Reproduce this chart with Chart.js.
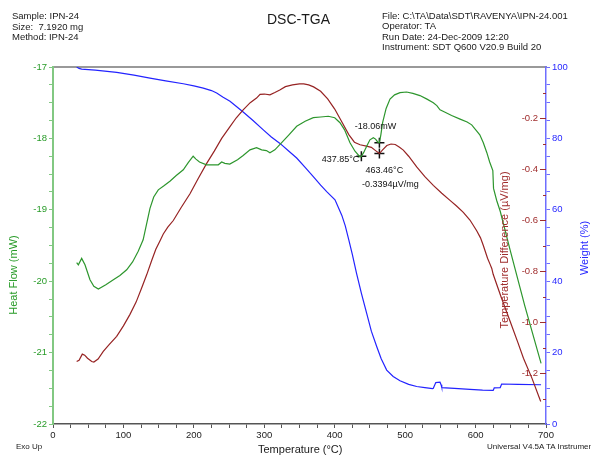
<!DOCTYPE html>
<html>
<head>
<meta charset="utf-8">
<script src="https://cdn.jsdelivr.net/npm/chart.js@4/dist/chart.umd.min.js"></script>
<style>
	body { margin: 0; width: 591px; height: 458px; overflow: hidden; background: #fff; position: relative; font-family: "Liberation Sans", Arial, sans-serif; }
	#chart { position: absolute; left: 0; top: 0; }
	.txt { position: absolute; white-space: pre; color: #1a1a1a; }
</style>
</head>
<body>
<canvas id="chart" width="591" height="458"></canvas>
<div class="txt" style="left:12px;top:11px;font-size:9.5px;line-height:10.5px">Sample: IPN-24
Size:  7.1920 mg
Method: IPN-24</div>
<div class="txt" style="left:267px;top:11px;font-size:14px;line-height:16px">DSC-TGA</div>
<div class="txt" style="left:382px;top:11px;font-size:9.5px;line-height:10.3px">File: C:\TA\Data\SDT\RAVENYA\IPN-24.001
Operator: TA
Run Date: 24-Dec-2009 12:20
Instrument: SDT Q600 V20.9 Build 20</div>
<div class="txt" style="left:16px;top:442px;font-size:8px;line-height:10px">Exo Up</div>
<div class="txt" style="left:258px;top:443px;font-size:11px;line-height:13px">Temperature (°C)</div>
<div class="txt" style="left:487px;top:442px;font-size:8px;line-height:10px">Universal V4.5A TA Instruments</div>
<script>
// heat flow, mW
var hfTemp = [33.6, 36, 40.7, 45.4, 52.5, 58, 64.4, 75, 85.7, 95, 104.6, 113, 121, 128, 137.7, 143, 149.5, 158, 166, 175, 185, 192, 199, 203, 208, 218, 228, 234.7, 239.5, 244, 251, 262, 270, 279.7, 289, 296.3, 303, 308, 315, 324.7, 335, 346, 358, 369.6, 380, 390.9, 400, 407.5, 414, 421.7, 428.8, 435.9, 437.85, 441, 445.4, 450, 454.8, 458, 461, 463.46, 465.5, 468, 473, 478.5, 485, 492.7, 502, 511, 521, 531, 540, 545, 549.5, 556, 566, 578, 588, 594.5, 602, 606, 611, 616, 620, 624.5, 625.5, 630, 635, 649, 670, 693];
var hfValue = [-19.74, -19.77, -19.68, -19.77, -19.98, -20.07, -20.11, -20.05, -19.98, -19.92, -19.84, -19.73, -19.58, -19.42, -18.98, -18.82, -18.72, -18.66, -18.60, -18.52, -18.44, -18.34, -18.25, -18.29, -18.33, -18.37, -18.37, -18.37, -18.33, -18.35, -18.36, -18.30, -18.24, -18.16, -18.13, -18.16, -18.17, -18.20, -18.16, -18.06, -17.95, -17.83, -17.76, -17.71, -17.70, -17.69, -17.71, -17.78, -17.88, -18.06, -18.18, -18.26, -18.25, -18.20, -18.11, -18.02, -17.99, -18.01, -18.05, -18.06, -17.95, -17.78, -17.58, -17.45, -17.39, -17.36, -17.35, -17.37, -17.40, -17.45, -17.50, -17.54, -17.60, -17.63, -17.68, -17.73, -17.77, -17.81, -17.90, -17.95, -18.06, -18.20, -18.33, -18.45, -18.70, -18.87, -19.02, -19.56, -20.35, -21.15];

// temperature difference, µV/mg
var tdTemp = [33.6, 37, 41.6, 45, 49, 55, 58, 64, 71.4, 80, 90.4, 100, 109.3, 118, 126, 133, 140, 146, 152, 156.6, 163, 170.8, 182, 194.5, 206, 218, 229, 239.5, 251.3, 260, 270, 280, 289, 294, 300, 308, 315, 322, 330, 340, 350, 356, 363, 370, 380, 390, 400, 410, 420, 428, 436, 445, 452, 458, 463.46, 468, 474, 480, 486, 492, 497.4, 505, 516.4, 528, 540, 552, 563.7, 573, 582.6, 592, 601.6, 607, 611, 617, 620.5, 623, 625, 636, 649, 660, 668, 680, 692.5];
var tdValue = [-1.155, -1.150, -1.126, -1.130, -1.142, -1.155, -1.157, -1.145, -1.115, -1.088, -1.056, -1.015, -0.970, -0.922, -0.866, -0.815, -0.760, -0.715, -0.681, -0.655, -0.628, -0.602, -0.551, -0.497, -0.438, -0.379, -0.330, -0.280, -0.234, -0.200, -0.168, -0.140, -0.122, -0.107, -0.106, -0.109, -0.100, -0.090, -0.077, -0.070, -0.066, -0.066, -0.070, -0.078, -0.095, -0.125, -0.165, -0.215, -0.265, -0.295, -0.305, -0.310, -0.315, -0.328, -0.3394, -0.325, -0.308, -0.302, -0.304, -0.315, -0.326, -0.350, -0.392, -0.430, -0.464, -0.495, -0.523, -0.545, -0.570, -0.600, -0.642, -0.670, -0.700, -0.750, -0.773, -0.790, -0.813, -0.900, -0.997, -1.080, -1.142, -1.220, -1.312];

// weight, %
var wtTemp = [33.6, 37, 40.7, 60, 90.4, 115, 137.7, 160, 185, 200, 213.4, 225, 232.4, 241, 251.3, 260, 270, 284, 298.6, 310, 322.3, 335, 346, 358, 369.6, 380, 388.6, 400.4, 410, 415, 420, 425, 431, 438, 445.4, 452, 459.6, 466, 473.8, 483, 492.7, 505, 516.4, 528, 539, 540, 543.5, 549.5, 551, 552, 570, 592, 610, 625, 626.5, 635, 637, 660, 693];
var wtValue = [100.0, 99.6, 99.4, 99.1, 98.5, 97.7, 96.9, 96.1, 95.3, 94.7, 94.1, 93.4, 92.7, 91.6, 90.4, 89.0, 87.4, 85.0, 82.4, 80.4, 78.6, 76.4, 74.5, 71.9, 69.3, 66.9, 65.1, 62.8, 58.5, 55.5, 51.6, 47.5, 42.2, 36.5, 31.0, 26.0, 21.7, 18.3, 15.1, 13.3, 12.1, 11.1, 10.5, 10.2, 9.9, 10.0, 11.6, 11.7, 11.0, 10.2, 10.0, 9.7, 9.5, 9.4, 10.1, 10.2, 11.2, 11.1, 11.0];

// picked points
var hfMarkTemp = [437.85, 463.46];
var hfMarkValue = [-18.25, -18.06];
var tdMarkTemp = [463.46];
var tdMarkValue = [-0.3394];

var tdTickLabels = [-0.2, -0.4, -0.6, -0.8, -1.0, -1.2];

var GREEN = 'rgb(45,150,45)', GREEN_TXT = 'rgb(40,155,40)', GREEN_AXIS = 'rgb(130,200,130)';
var RED = 'rgb(150,35,35)', RED_TXT = 'rgb(160,45,45)';
var BLUE = 'rgb(35,35,255)', BLUE_TXT = 'rgb(40,40,255)', BLUE_AXIS = 'rgb(110,110,255)';
var FONT = '"Liberation Sans", Arial, sans-serif';

function pairs(xs, ys) {
	return xs.map(function (x, i) { return {x: x, y: ys[i]}; });
}

function isWhole(v, step) {
	var r = v / step;
	return Math.abs(r - Math.round(r)) < 1e-6;
}

function vText(ctx, text, x, y, color) {
	ctx.save();
	ctx.translate(x, y);
	ctx.rotate(-Math.PI / 2);
	ctx.fillStyle = color;
	ctx.font = '11px ' + FONT;
	ctx.textAlign = 'center';
	ctx.textBaseline = 'middle';
	ctx.fillText(text, 0, 0);
	ctx.restore();
}

// red axis lives inside the plot, left of the weight axis
var extras = {
	id: 'extras',
	afterDraw: function (chart) {
		var ctx = chart.ctx, area = chart.chartArea;
		var sx = chart.scales.x, hf = chart.scales.yHF, td = chart.scales.yTD;
		ctx.save();
		ctx.strokeStyle = RED_TXT;
		ctx.lineWidth = 1;
		for (var k = 1; k < 14; k++) {
			var yy = Math.round(td.getPixelForValue(-k / 10)) + 0.5;
			var len = k % 2 === 0 ? 6 : 3;
			ctx.beginPath();
			ctx.moveTo(area.right - len, yy);
			ctx.lineTo(area.right, yy);
			ctx.stroke();
		}
		ctx.fillStyle = RED_TXT;
		ctx.font = '9.5px ' + FONT;
		ctx.textAlign = 'right';
		ctx.textBaseline = 'middle';
		tdTickLabels.forEach(function (v) {
			ctx.fillText(v.toFixed(1), area.right - 8, td.getPixelForValue(v));
		});
		ctx.restore();

		vText(ctx, 'Heat Flow (mW)', 14, 275, GREEN_TXT);
		vText(ctx, 'Temperature Difference (µV/mg)', 505, 250, RED_TXT);
		vText(ctx, 'Weight (%)', 585, 248, BLUE_TXT);

		// texts next to the picked points
		ctx.save();
		ctx.fillStyle = '#111';
		ctx.font = '9px ' + FONT;
		ctx.textBaseline = 'middle';
		var px = sx.getPixelForValue(hfMarkTemp[0]), py = hf.getPixelForValue(hfMarkValue[0]);
		ctx.textAlign = 'right';
		ctx.fillText(hfMarkTemp[0].toFixed(2) + '°C', px - 2, py + 3);
		ctx.textAlign = 'center';
		px = sx.getPixelForValue(hfMarkTemp[1]); py = hf.getPixelForValue(hfMarkValue[1]);
		ctx.fillText(hfMarkValue[1].toFixed(2) + 'mW', px - 4, py - 16);
		px = sx.getPixelForValue(tdMarkTemp[0]); py = td.getPixelForValue(tdMarkValue[0]);
		ctx.fillText(tdMarkTemp[0].toFixed(2) + '°C', px + 5, py + 17);
		ctx.fillText(tdMarkValue[0].toFixed(4) + 'µV/mg', px + 11, py + 31);
		ctx.restore();
	}
};

var ctx = document.getElementById('chart').getContext('2d');
new Chart(ctx, {
	type: 'scatter',
	data: {
		datasets: [{
			label: 'Heat Flow',
			data: pairs(hfTemp, hfValue),
			yAxisID: 'yHF',
			showLine: true,
			borderColor: GREEN,
			borderWidth: 1.2,
			pointRadius: 0,
			tension: 0
		}, {
			label: 'Temperature Difference',
			data: pairs(tdTemp, tdValue),
			yAxisID: 'yTD',
			showLine: true,
			borderColor: RED,
			borderWidth: 1.2,
			pointRadius: 0,
			tension: 0
		}, {
			label: 'Weight',
			data: pairs(wtTemp, wtValue),
			yAxisID: 'yW',
			showLine: true,
			borderColor: BLUE,
			borderWidth: 1.2,
			pointRadius: 0,
			tension: 0
		}, {
			label: 'hf marks',
			data: pairs(hfMarkTemp, hfMarkValue),
			yAxisID: 'yHF',
			pointStyle: 'cross',
			pointRadius: 5,
			borderColor: '#111',
			borderWidth: 1.5
		}, {
			label: 'td marks',
			data: pairs(tdMarkTemp, tdMarkValue),
			yAxisID: 'yTD',
			pointStyle: 'cross',
			pointRadius: 5,
			borderColor: '#111',
			borderWidth: 1.5
		}]
	},
	options: {
		responsive: false,
		animation: false,
		devicePixelRatio: 1,
		layout: { padding: { top: 67, left: 0, right: 0, bottom: 0 } },
		plugins: { legend: { display: false }, tooltip: { enabled: false } },
		scales: {
			x: {
				type: 'linear', position: 'bottom', min: 0, max: 700,
				afterFit: function (s) { s.height = 34; },
				grid: { drawOnChartArea: false, tickLength: 4, color: '#555' },
				border: { color: '#555', width: 1.5 },
				ticks: {
					stepSize: 25, autoSkip: false, maxRotation: 0, padding: 2,
					color: '#222', font: { family: FONT, size: 9.5 },
					callback: function (v) { return isWhole(v, 100) ? String(v) : ''; }
				}
			},
			xTop: {
				type: 'linear', position: 'top', min: 0, max: 700,
				afterFit: function (s) { s.height = 0; },
				grid: { display: false },
				border: { color: '#999', width: 2 },
				ticks: { display: false }
			},
			yHF: {
				type: 'linear', position: 'left', min: -22, max: -17,
				afterFit: function (s) { s.width = 53; },
				grid: { drawOnChartArea: false, tickLength: 4, color: GREEN_AXIS },
				border: { color: GREEN_AXIS, width: 2 },
				ticks: {
					stepSize: 0.25, autoSkip: false, padding: 2,
					color: GREEN_TXT, font: { family: FONT, size: 9.5 },
					callback: function (v) { return isWhole(v, 1) ? String(Math.round(v)) : ''; }
				}
			},
			yW: {
				type: 'linear', position: 'right', min: 0, max: 100, weight: 1,
				afterFit: function (s) { s.width = 45; },
				grid: { drawOnChartArea: false, tickLength: 4, color: BLUE_AXIS },
				border: { color: BLUE_AXIS, width: 1.5 },
				ticks: {
					stepSize: 5, autoSkip: false, padding: 2,
					color: BLUE_TXT, font: { family: FONT, size: 9.5 },
					callback: function (v) { return isWhole(v, 20) ? String(Math.round(v)) : ''; }
				}
			},
			yTD: {
				type: 'linear', position: 'right', min: -1.4, max: 0, display: false
			}
		}
	},
	plugins: [extras]
});
</script>
</body>
</html>
